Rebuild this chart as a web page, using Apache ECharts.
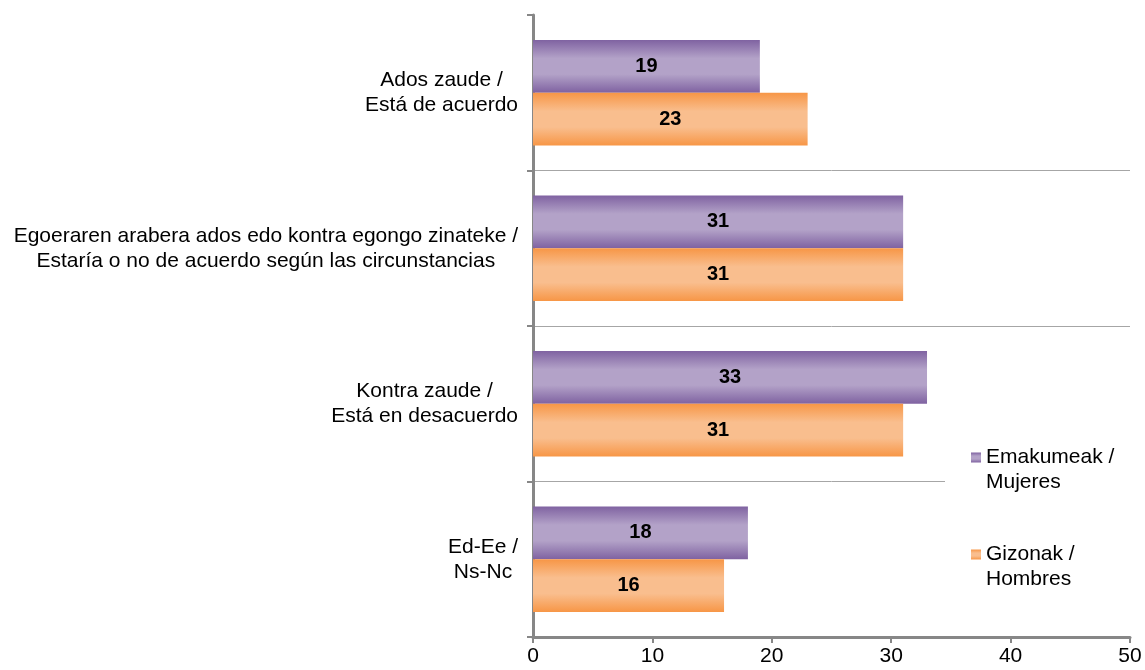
<!DOCTYPE html>
<html>
<head>
<meta charset="utf-8">
<script src="https://cdn.jsdelivr.net/npm/echarts@6/dist/echarts.min.js"></script>
<style>
  html, body { margin: 0; padding: 0; background: #fff; }
  #chart { width: 1145px; height: 670px; }
</style>
</head>
<body>
<div id="chart"></div>
<script>
const categories = [
  'Ados zaude /\nEstá de acuerdo',
  'Egoeraren arabera ados edo kontra egongo zinateke /\nEstaría o no de acuerdo según las circunstancias',
  'Kontra zaude /\nEstá en desacuerdo',
  'Ed-Ee /\nNs-Nc'
]
const mujeres = [19, 31, 33, 18]
const hombres = [23, 31, 31, 16]
const seriesNames = ['Emakumeak /\nMujeres', 'Gizonak /\nHombres']

const FONT = '"Liberation Sans", Arial, sans-serif'
const axisGray = '#878787'

// vertical gradient like the excel bars: dark edges, light middle
function barGrad(edge, mid) {
  return new echarts.graphic.LinearGradient(0, 0, 0, 1, [
    { offset: 0, color: edge },
    { offset: 0.35, color: mid },
    { offset: 0.65, color: mid },
    { offset: 1, color: edge }
  ])
}

const chart = echarts.init(document.getElementById('chart'))

const barLabel = {
  show: true,
  position: 'inside',
  color: '#000',
  fontWeight: 'bold',
  fontSize: 20,
  fontFamily: FONT
}

chart.setOption({
  animation: false,
  grid: { left: 533, right: 15, top: 15, bottom: 33, containLabel: false },
  legend: {
    orient: 'vertical',
    left: 945,
    top: 410,
    padding: [10, 40, 10, 26],
    backgroundColor: '#fff',
    itemWidth: 10,
    itemHeight: 10,
    itemGap: 22,
    icon: 'rect',
    // empty first line so the icon sits next to the first text line
    formatter: name => '\n' + name,
    textStyle: {
      fontSize: 21,
      fontFamily: FONT,
      color: '#000',
      lineHeight: 25
    },
    data: seriesNames
  },
  xAxis: {
    type: 'value',
    min: 0,
    max: 50,
    interval: 10,
    axisLine: { show: true, lineStyle: { color: axisGray, width: 3 } },
    axisTick: { show: true, length: 6, lineStyle: { color: axisGray, width: 2 } },
    axisLabel: { fontSize: 21, fontFamily: FONT, color: '#000', margin: 9 },
    splitLine: { show: false }
  },
  yAxis: {
    type: 'category',
    inverse: true,
    data: categories,
    axisLine: { show: true, lineStyle: { color: axisGray, width: 3 } },
    axisTick: { show: true, length: 6, lineStyle: { color: axisGray, width: 2 } },
    splitLine: {
      show: true,
      showMinLine: false,
      showMaxLine: false,
      lineStyle: { color: '#a6a6a6', width: 1 }
    },
    axisLabel: {
      margin: 15,
      align: 'right',
      formatter: function (v) {
        return v.split('\n').map(s => '{c|' + s + '}').join('\n')
      },
      rich: {
        c: { align: 'center', fontSize: 21, lineHeight: 25, fontFamily: FONT, color: '#000' }
      }
    }
  },
  series: [
    {
      name: seriesNames[0],
      type: 'bar',
      data: mujeres,
      barGap: '0%',
      barCategoryGap: '32%',
      itemStyle: { color: barGrad('#7f62a1', '#b3a2c8') },
      label: barLabel
    },
    {
      name: seriesNames[1],
      type: 'bar',
      data: hombres,
      itemStyle: { color: barGrad('#f79646', '#f9be8e') },
      label: barLabel
    }
  ]
})
</script>
</body>
</html>
